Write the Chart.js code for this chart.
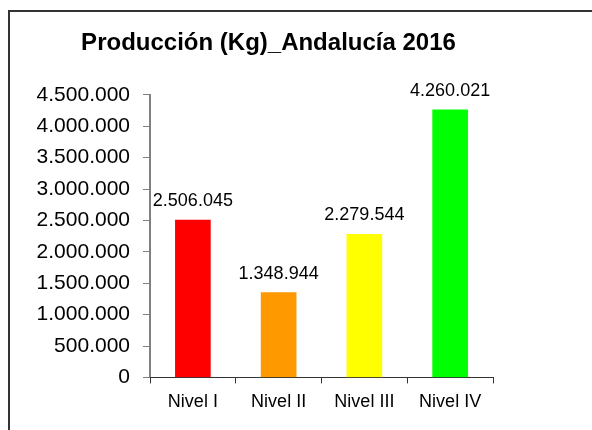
<!DOCTYPE html>
<html>
<head>
<meta charset="utf-8">
<script src="https://cdn.jsdelivr.net/npm/chart.js@4"></script>
<style>
    body { margin: 0; background: #fff; }
    #marco { position: absolute; left: 8px; top: 10px; width: 600px; height: 440px;
             border-left: 2px solid #333; border-top: 2px solid #333; }
    #caja { position: absolute; left: 0; top: 0; width: 537px; height: 430px; }
</style>
</head>
<body>
<div id="marco"></div>
<div id="caja"><canvas id="grafico"></canvas></div>
<script>
    const niveles = ['Nivel I', 'Nivel II', 'Nivel III', 'Nivel IV']
    const produccion = [2506045, 1348944, 2279544, 4260021]
    const colores = ['#ff0000', '#ff9900', '#ffff00', '#00ff00']
    const titulo = 'Producción (Kg)_Andalucía 2016'

    function puntos(n) {
        return String(n).replace(/\B(?=(\d{3})+(?!\d))/g, '.')
    }

    // etiquetas encima de cada barra
    const etiquetas = {
        id: 'etiquetas',
        afterLayout(chart) {
            // el titulo va centrado un poco mas a la derecha que el area del grafico
            chart.titleBlock.left = 44
            chart.titleBlock.right = 493
        },
        afterDatasetsDraw(chart) {
            const ctx = chart.ctx
            ctx.save()
            ctx.font = '18px "Liberation Sans", Arial, sans-serif'
            ctx.fillStyle = '#000'
            ctx.textAlign = 'center'
            ctx.textBaseline = 'alphabetic'
            chart.getDatasetMeta(0).data.forEach((barra, i) => {
                ctx.fillText(puntos(produccion[i]), barra.x, barra.y - 14)
            })
            ctx.restore()
        }
    }

    Chart.defaults.font.family = '"Liberation Sans", Arial, sans-serif'
    Chart.defaults.color = '#000'

    new Chart(document.getElementById('grafico'), {
        type: 'bar',
        data: {
            labels: niveles,
            datasets: [{
                data: produccion,
                backgroundColor: colores,
                barThickness: 35
            }]
        },
        options: {
            responsive: true,
            maintainAspectRatio: false,
            animation: false,
            layout: { padding: { left: 0, right: 44, top: 0, bottom: 9 } },
            plugins: {
                legend: { display: false },
                tooltip: { enabled: false },
                title: {
                    display: true,
                    text: titulo,
                    font: { size: 24, weight: 'bold' },
                    color: '#000',
                    padding: { top: 29, bottom: 37 }
                }
            },
            scales: {
                y: {
                    min: 0,
                    max: 4500000,
                    afterFit(scale) { scale.width = 150 },
                    ticks: {
                        stepSize: 500000,
                        padding: 13,
                        font: { size: 21 },
                        callback: v => puntos(v)
                    },
                    grid: { drawOnChartArea: false, tickLength: 7, color: '#808080' },
                    border: { color: '#808080', width: 2 }
                },
                x: {
                    ticks: { padding: 8, font: { size: 18 } },
                    grid: { drawOnChartArea: false, tickLength: 6, color: '#333', offset: true },
                    border: { color: '#333', width: 1 }
                }
            }
        },
        plugins: [etiquetas]
    })
</script>
</body>
</html>
